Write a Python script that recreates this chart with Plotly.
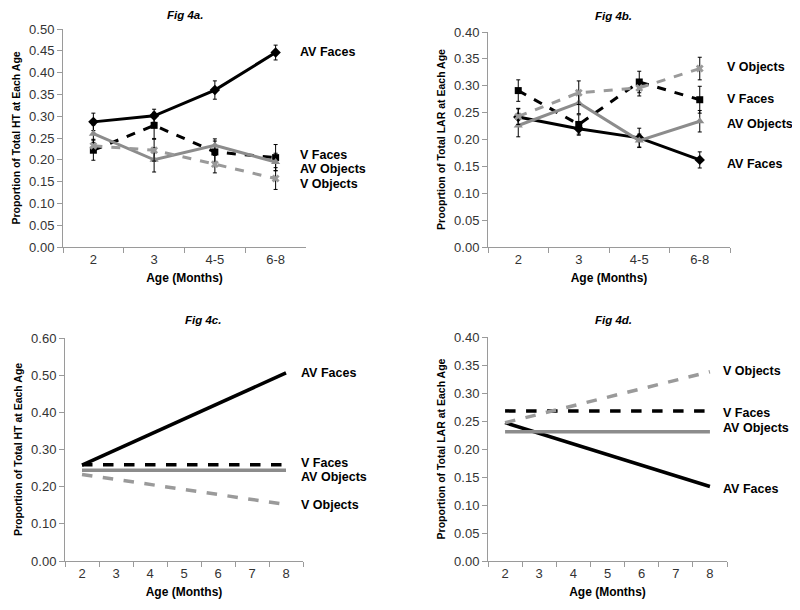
import plotly.graph_objects as go

# ---------------- data ----------------
ages_cat = ["2", "3", "4-5", "6-8"]

# Fig 4a: proportion of total HT
a_av_faces = [0.287, 0.301, 0.360, 0.446]
a_av_faces_err = [0.020, 0.015, 0.021, 0.017]
a_v_faces = [0.222, 0.279, 0.218, 0.205]
a_v_faces_err = [0.023, 0.030, 0.025, 0.030]
a_av_objects = [0.260, 0.200, 0.233, 0.195]
a_av_objects_err = [0.020, 0.028, 0.015, 0.020]
a_v_objects = [0.232, 0.222, 0.190, 0.157]
a_v_objects_err = [0.015, 0.025, 0.020, 0.025]

# Fig 4b: proportion of total LAR
b_av_faces = [0.242, 0.220, 0.203, 0.162]
b_av_faces_err = [0.015, 0.012, 0.018, 0.015]
b_v_faces = [0.291, 0.228, 0.307, 0.274]
b_v_faces_err = [0.020, 0.018, 0.020, 0.025]
b_av_objects = [0.226, 0.268, 0.198, 0.234]
b_av_objects_err = [0.021, 0.020, 0.012, 0.020]
b_v_objects = [0.243, 0.287, 0.296, 0.332]
b_v_objects_err = [0.015, 0.022, 0.015, 0.021]

# Fig 4c / 4d: model lines
ages_num = [2, 8]
c_av_faces = [0.258, 0.506]
c_v_faces = [0.259, 0.259]
c_av_objects = [0.244, 0.244]
c_v_objects = [0.233, 0.152]

d_av_faces = [0.247, 0.133]
d_v_faces = [0.268, 0.268]
d_av_objects = [0.231, 0.231]
d_v_objects = [0.247, 0.338]

series_names = ["AV Faces", "V Faces", "AV Objects", "V Objects"]

BLACK = "#000000"
GRAY = "#8c8c8c"
LGRAY = "#9a9a9a"
AXIS = "#9a9a9a"
FONT = "Liberation Sans, Arial, sans-serif"

styles = {
    "AV Faces": dict(color=BLACK, dash="solid", symbol="diamond", msize=8),
    "V Faces": dict(color=BLACK, dash="dash", symbol="square", msize=7),
    "AV Objects": dict(color=GRAY, dash="solid", symbol="triangle-up", msize=8),
    "V Objects": dict(color=LGRAY, dash="dash", symbol="x", msize=7),
}

fig = go.Figure()


def add_err_series(x, y, err, name, xa, ya):
    s = styles[name]
    fig.add_trace(go.Scatter(
        x=x, y=y, mode="lines+markers", name=name, showlegend=False,
        line=dict(color=s["color"], width=3, dash=s["dash"]),
        marker=dict(color=s["color"], symbol=s["symbol"], size=s["msize"],
                    line=dict(width=0)),
        error_y=dict(type="data", array=err, visible=True, color=BLACK,
                     thickness=1, width=2),
        xaxis=xa, yaxis=ya,
    ))


def add_line(x, y, name, xa, ya):
    s = styles[name]
    fig.add_trace(go.Scatter(
        x=x, y=y, mode="lines", name=name, showlegend=False,
        line=dict(color=s["color"], width=3.5, dash=s["dash"]),
        xaxis=xa, yaxis=ya,
    ))


# panel a
for nm, y, e in zip(series_names,
                    [a_av_faces, a_v_faces, a_av_objects, a_v_objects],
                    [a_av_faces_err, a_v_faces_err, a_av_objects_err, a_v_objects_err]):
    add_err_series(ages_cat, y, e, nm, "x", "y")
# panel b
for nm, y, e in zip(series_names,
                    [b_av_faces, b_v_faces, b_av_objects, b_v_objects],
                    [b_av_faces_err, b_v_faces_err, b_av_objects_err, b_v_objects_err]):
    add_err_series(ages_cat, y, e, nm, "x2", "y2")
# panel c
for nm, y in zip(series_names, [c_av_faces, c_v_faces, c_av_objects, c_v_objects]):
    add_line(ages_num, y, nm, "x3", "y3")
# panel d
for nm, y in zip(series_names, [d_av_faces, d_v_faces, d_av_objects, d_v_objects]):
    add_line(ages_num, y, nm, "x4", "y4")

# page body has an 8px margin: figure occupies screen pixels 8..800 / 8..610
OFF = 8
W, H = 800 - OFF, 610 - OFF


def px_x(v):
    return (v - OFF) / W


def px_y(v):
    return 1 - (v - OFF) / H


tickfont = dict(family=FONT, size=13, color="#333333")
ytitlefont = dict(family=FONT, size=10.5, color="#000000")
xtitlefont = dict(family=FONT, size=12, color="#000000")

common_axis = dict(showline=True, linecolor=AXIS, linewidth=1, showgrid=False,
                   zeroline=False, ticks="outside", tickcolor=AXIS, ticklen=5,
                   tickfont=tickfont, automargin=False)

cat_x = dict(common_axis, type="category", tickson="boundaries",
             categoryorder="array", categoryarray=ages_cat,
             range=[-0.5, 3.5],
             title=dict(text="<b>Age (Months)</b>", font=xtitlefont, standoff=8))

num_x = dict(common_axis, range=[1.5, 8.5], tickvals=[2, 3, 4, 5, 6, 7, 8],
             ticks="", ticklen=0,
             minor=dict(tick0=1.5, dtick=1, ticks="outside", ticklen=5,
                        tickcolor=AXIS, showgrid=False),
             title=dict(text="<b>Age (Months)</b>", font=xtitlefont, standoff=8))

fig.update_layout(
    width=W, height=H,
    margin=dict(l=0, r=0, t=0, b=0),
    paper_bgcolor="white", plot_bgcolor="white",
    font=dict(family=FONT),
    xaxis=dict(cat_x, domain=[px_x(63), px_x(306)], anchor="y"),
    yaxis=dict(common_axis, domain=[px_y(247), px_y(29)], range=[0, 0.5],
               dtick=0.05, tickformat=".2f", anchor="x",
               title=dict(text="<b>Proportion of Total HT at Each Age</b>",
                          font=ytitlefont, standoff=6)),
    xaxis2=dict(cat_x, domain=[px_x(488), px_x(730)], anchor="y2"),
    yaxis2=dict(common_axis, domain=[px_y(247), px_y(32)], range=[0, 0.4],
                dtick=0.05, tickformat=".2f", anchor="x2",
                title=dict(text="<b>Prooprtion of Total LAR at Each Age</b>",
                           font=ytitlefont, standoff=6)),
    xaxis3=dict(num_x, domain=[px_x(65), px_x(303)], anchor="y3"),
    yaxis3=dict(common_axis, domain=[px_y(561), px_y(338)], range=[0, 0.6],
                dtick=0.1, tickformat=".2f", anchor="x3",
                title=dict(text="<b>Proportion of Total HT at Each Age</b>",
                           font=ytitlefont, standoff=6)),
    xaxis4=dict(num_x, domain=[px_x(488), px_x(727)], anchor="y4"),
    yaxis4=dict(common_axis, domain=[px_y(561), px_y(337)], range=[0, 0.4],
                dtick=0.05, tickformat=".2f", anchor="x4",
                title=dict(text="<b>Proportion of Total LAR at Each Age</b>",
                           font=ytitlefont, standoff=6)),
)

label_font = dict(family=FONT, size=12.5, color="#000000")
title_font = dict(family=FONT, size=11.5, color="#000000")

# panel titles
titles = [("<b><i>Fig 4a.</i></b>", 185, 15), ("<b><i>Fig 4b.</i></b>", 613, 16),
          ("<b><i>Fig 4c.</i></b>", 203, 320), ("<b><i>Fig 4d.</i></b>", 613, 320)]
for txt, x, y in titles:
    fig.add_annotation(text=txt, xref="paper", yref="paper", x=px_x(x), y=px_y(y),
                       showarrow=False, font=title_font, xanchor="center", yanchor="middle")

# series labels (anchored to data coordinates on y)
labels = [
    ("x", "y", "AV Faces", 0.447), ("x", "y", "V Faces", 0.210),
    ("x", "y", "AV Objects", 0.178), ("x", "y", "V Objects", 0.145),
    ("x2", "y2", "V Objects", 0.335), ("x2", "y2", "V Faces", 0.275),
    ("x2", "y2", "AV Objects", 0.229), ("x2", "y2", "AV Faces", 0.155),
    ("x3", "y3", "AV Faces", 0.505), ("x3", "y3", "V Faces", 0.265),
    ("x3", "y3", "AV Objects", 0.226), ("x3", "y3", "V Objects", 0.150),
    ("x4", "y4", "V Objects", 0.340), ("x4", "y4", "V Faces", 0.265),
    ("x4", "y4", "AV Objects", 0.237), ("x4", "y4", "AV Faces", 0.128),
]
label_x = {"x": 298, "x2": 725, "x3": 299, "x4": 721}
for xa, ya, txt, yv in labels:
    fig.add_annotation(text="<b>%s</b>" % txt, xref="paper", yref=ya, x=px_x(label_x[xa]),
                       y=yv, showarrow=False, font=label_font,
                       xanchor="left", yanchor="middle")

fig.write_html("out.html")
